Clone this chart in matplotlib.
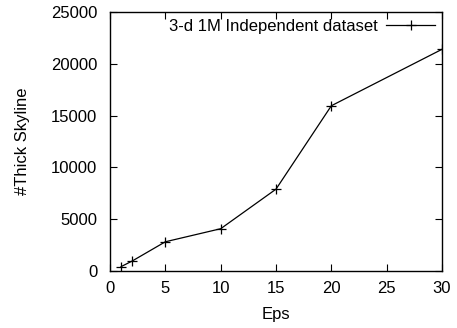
import matplotlib
matplotlib.use("Agg")
import matplotlib.pyplot as plt

eps = [1, 2, 5, 10, 15, 20, 30]
thick = [420, 960, 2820, 4080, 7900, 15950, 21400]
xticks = [0, 5, 10, 15, 20, 25, 30]
yticks = [0, 5000, 10000, 15000, 20000, 25000]

plt.rcParams['font.family'] = ['Liberation Sans', 'DejaVu Sans']
fig = plt.figure(figsize=(4.57, 3.28), dpi=100)
ax = fig.add_axes([0.2407, 0.1738, 0.9672 - 0.2407, 0.9634 - 0.1738])
ax.plot(eps, thick, color='black', lw=0.9, marker='+', ms=7, mew=0.9,
        label='3-d 1M Independent dataset')
ax.set_xlim(0, 30)
ax.set_ylim(0, 25000)
ax.set_xticks(xticks)
ax.set_yticks(yticks)
ax.tick_params(direction='in', top=True, right=True, labelsize=12, length=5, width=0.8)
ax.tick_params(axis='x', pad=7)
ax.tick_params(axis='y', pad=9)
for s in ax.spines.values():
    s.set_linewidth(1.0)
ax.set_xlabel('Eps', fontsize=12, labelpad=8)
ax.set_ylabel('#Thick Skyline', fontsize=12, labelpad=15)
leg = ax.legend(loc='upper right', frameon=False, fontsize=12, markerfirst=False,
                handlelength=2.9, bbox_to_anchor=(0.998, 1.0), borderaxespad=0.0,
                handletextpad=0.5)
fig.savefig('out.png', dpi=100)
